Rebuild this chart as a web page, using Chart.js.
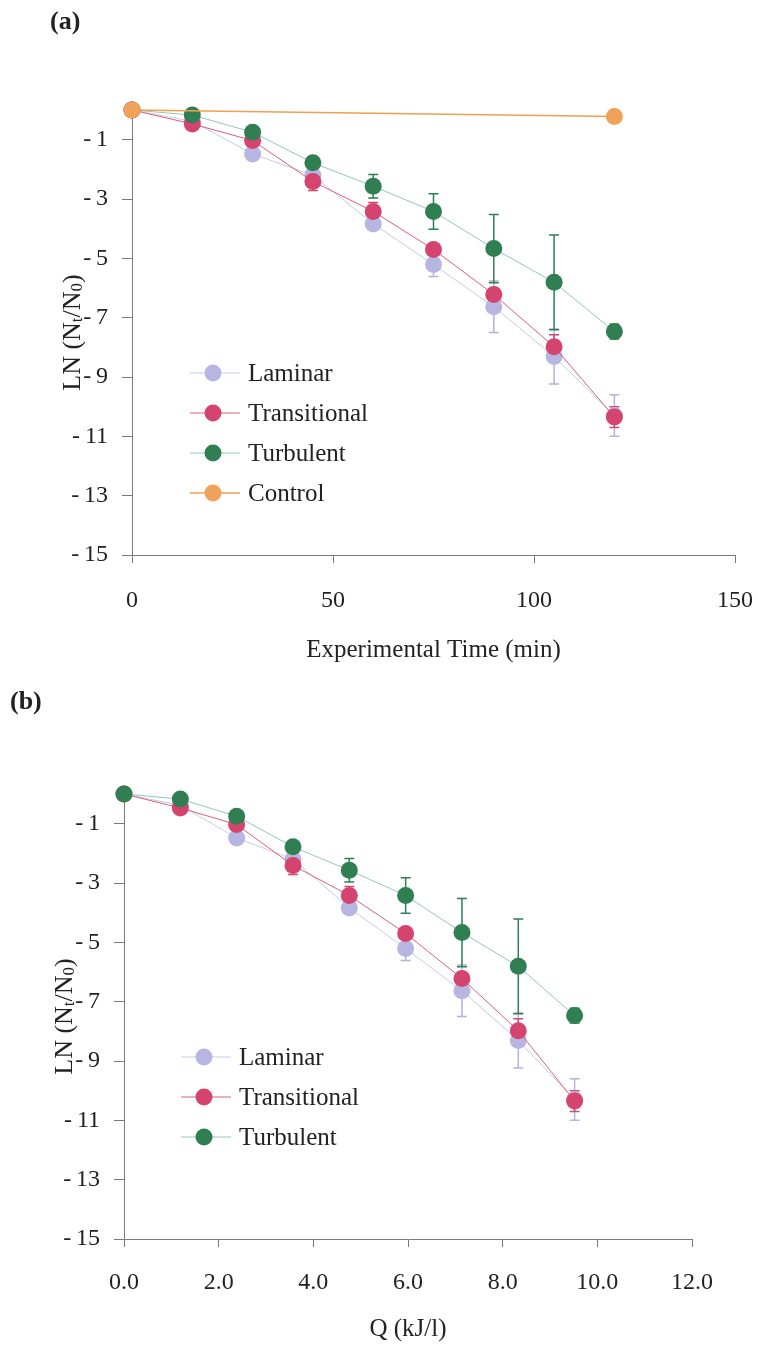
<!DOCTYPE html>
<html>
<head>
<meta charset="utf-8">
<script src="https://cdn.jsdelivr.net/npm/chart.js@4.4.1/dist/chart.umd.min.js"></script>
<style>
  body { margin: 0; background: #fff; width: 758px; height: 1350px; position: relative; overflow: hidden; }
  .panel { position: absolute; left: 0; }
  .panel canvas { display: block; }
  .tag { position: absolute; z-index: 2; font: bold 26px "Liberation Serif", serif; line-height: 26px; color: #222; }
</style>
</head>
<body>
<div class="panel" style="top:0"><canvas id="chartA" width="758" height="690"></canvas></div>
<div class="panel" style="top:690px"><canvas id="chartB" width="758" height="660"></canvas></div>
<div class="tag" style="left:50px;top:8px">(a)</div>
<div class="tag" style="left:10px;top:688px">(b)</div>
<script>
// x values
const timeMin = [0, 15, 30, 45, 60, 75, 90, 105, 120];
const qKJ = [0, 1.19, 2.38, 3.57, 4.76, 5.95, 7.14, 8.33, 9.52];
const controlTime = [0, 120];

// LN(Nt/N0) per regime
const laminar = [0, -0.38, -1.48, -2.2, -3.84, -5.21, -6.63, -8.31, -10.3];
const transitional = [0, -0.47, -1.03, -2.41, -3.42, -4.7, -6.22, -7.98, -10.35];
const turbulent = [0, -0.17, -0.75, -1.78, -2.57, -3.42, -4.67, -5.81, -7.47];
const control = [0, -0.22];

// error bar half-heights
const laminarErr = [0, 0.1, 0.15, 0.2, 0.15, 0.4, 0.87, 0.93, 0.7];
const transitionalErr = [0, 0.1, 0.1, 0.3, 0.3, 0.15, 0.2, 0.4, 0.35];
const turbulentErr = [0, 0.05, 0.1, 0.15, 0.4, 0.6, 1.15, 1.6, 0.25];

const yTicks = [-15, -13, -11, -9, -7, -5, -3, -1];

const FONT = '"Liberation Serif", "Times New Roman", serif';
const INK = '#222';
const AXIS = '#7a7a7a';

const colors = {
  laminar: { dot: '#b7b5e2', line: '#c4cbe8', err: '#b4b2de', order: 4 },
  transitional: { dot: '#d5446e', line: '#d9607f', err: '#cf4a72', order: 3 },
  turbulent: { dot: '#2f7f52', line: '#93c6bd', err: '#2f7f52', order: 2 },
  control: { dot: '#f0a25a', line: '#f0a04e', err: '#f0a25a', order: 1 }
};

function series(label, xs, ys, errs, c, lw) {
  return {
    label: label,
    data: xs.map((x, i) => ({ x: x, y: ys[i] })),
    errors: errs,
    errorColor: c.err,
    borderColor: c.line,
    borderWidth: lw || 1,
    backgroundColor: c.dot,
    pointBackgroundColor: c.dot,
    pointBorderWidth: 0,
    pointRadius: 8.5,
    pointHoverRadius: 8.5,
    tension: 0,
    clip: false,
    order: c.order
  };
}

// vertical error bars with caps
const errorBars = {
  id: 'errorBars',
  beforeDatasetsDraw(chart) {
    const ctx = chart.ctx;
    const ys = chart.scales.y;
    chart.data.datasets.forEach((ds, i) => {
      if (!ds.errors) return;
      const meta = chart.getDatasetMeta(i);
      meta.data.forEach((pt, j) => {
        const e = ds.errors[j];
        if (!e) return;
        const v = ds.data[j].y;
        const top = ys.getPixelForValue(v + e);
        const bot = ys.getPixelForValue(v - e);
        ctx.save();
        ctx.strokeStyle = ds.errorColor;
        ctx.lineWidth = 1.5;
        ctx.beginPath();
        ctx.moveTo(pt.x, top); ctx.lineTo(pt.x, bot);
        ctx.moveTo(pt.x - 5, top); ctx.lineTo(pt.x + 5, top);
        ctx.moveTo(pt.x - 5, bot); ctx.lineTo(pt.x + 5, bot);
        ctx.stroke();
        ctx.restore();
      });
    });
  }
};

// rotated y title with subscripts
const yTitle = {
  id: 'yTitle',
  afterDraw(chart, args, opts) {
    const { ctx, chartArea } = chart;
    const cy = (chartArea.top + chartArea.bottom) / 2;
    const big = '26px ' + FONT, small = '17px ' + FONT;
    const parts = [['LN (N', big, 0], ['t', small, 5], ['/N', big, 0], ['0', small, 5], [')', big, 0]];
    ctx.save();
    ctx.translate(opts.x, cy);
    ctx.rotate(-Math.PI / 2);
    let total = 0;
    parts.forEach(p => { ctx.font = p[1]; total += ctx.measureText(p[0]).width; });
    let x = -total / 2;
    ctx.fillStyle = INK;
    ctx.textBaseline = 'middle';
    parts.forEach(p => {
      ctx.font = p[1];
      ctx.fillText(p[0], x, p[2]);
      x += ctx.measureText(p[0]).width;
    });
    ctx.restore();
  }
};

// legend drawn inside the plot
const inLegend = {
  id: 'inLegend',
  afterDraw(chart, args, opts) {
    const ctx = chart.ctx;
    ctx.save();
    chart.data.datasets.forEach((ds, i) => {
      const y = opts.y + i * opts.gap;
      ctx.strokeStyle = ds.borderColor;
      ctx.lineWidth = ds.borderWidth;
      ctx.beginPath();
      ctx.moveTo(opts.x - 23, y); ctx.lineTo(opts.x + 27, y);
      ctx.stroke();
      ctx.fillStyle = ds.pointBackgroundColor;
      ctx.beginPath();
      ctx.arc(opts.x, y, 8.5, 0, Math.PI * 2);
      ctx.fill();
      ctx.fillStyle = INK;
      ctx.font = '25px ' + FONT;
      ctx.textBaseline = 'middle';
      ctx.fillText(ds.label, opts.textX, y + 1);
    });
    ctx.restore();
  }
};

function makeChart(id, cfg) {
  return new Chart(document.getElementById(id), {
    type: 'line',
    data: { datasets: cfg.datasets },
    options: {
      responsive: false,
      animation: false,
      events: [],
      layout: { padding: cfg.padding },
      plugins: {
        legend: { display: false },
        tooltip: { enabled: false },
        yTitle: { x: cfg.titleX },
        inLegend: cfg.legend
      },
      scales: {
        x: {
          type: 'linear',
          min: cfg.xMin, max: cfg.xMax,
          ticks: {
            stepSize: cfg.xStep,
            padding: cfg.xTickPad,
            color: INK,
            font: { family: FONT, size: 24 },
            callback: cfg.xFormat
          },
          grid: { display: true, drawOnChartArea: false, tickLength: 8, color: AXIS },
          border: { color: AXIS, width: 1 },
          title: {
            display: true, text: cfg.xTitle, color: INK,
            font: { family: FONT, size: 25 },
            padding: { top: 0, bottom: cfg.xTitlePad }
          },
          afterFit(s) {
            s.height = cfg.xHeight;
            s.paddingLeft = 0;
            s.paddingRight = 0;
          }
        },
        y: {
          min: -15, max: 0,
          afterBuildTicks(s) { s.ticks = yTicks.map(v => ({ value: v })); },
          ticks: {
            padding: 14,
            color: INK,
            font: { family: FONT, size: 24 },
            callback: v => v < 0 ? '-\u2009' + (-v) : String(v)
          },
          grid: { display: true, drawOnChartArea: false, tickLength: 10, color: AXIS },
          border: { color: AXIS, width: 1 },
          afterFit(s) {
            s.width = cfg.yWidth;
            s.paddingTop = 0;
            s.paddingBottom = 0;
          }
        }
      }
    },
    plugins: [errorBars, yTitle, inLegend]
  });
}

makeChart('chartA', {
  datasets: [
    series('Laminar', timeMin, laminar, laminarErr, colors.laminar),
    series('Transitional', timeMin, transitional, transitionalErr, colors.transitional),
    series('Turbulent', timeMin, turbulent, turbulentErr, colors.turbulent),
    series('Control', controlTime, control, null, colors.control, 1.6)
  ],
  padding: { top: 110, right: 23, left: 0, bottom: 0 },
  xMin: 0, xMax: 150, xStep: 50,
  xFormat: v => String(v),
  xTitle: 'Experimental Time (min)',
  xTickPad: 23, xTitlePad: 25, xHeight: 135,
  yWidth: 132,
  titleX: 73,
  legend: { x: 213, textX: 248, y: 373, gap: 40 }
});

makeChart('chartB', {
  datasets: [
    series('Laminar', qKJ, laminar, laminarErr, colors.laminar),
    series('Transitional', qKJ, transitional, transitionalErr, colors.transitional),
    series('Turbulent', qKJ, turbulent, turbulentErr, colors.turbulent)
  ],
  padding: { top: 104, right: 66, left: 0, bottom: 0 },
  xMin: 0, xMax: 12, xStep: 2,
  xFormat: v => v.toFixed(1),
  xTitle: 'Q (kJ/l)',
  xTickPad: 21, xTitlePad: 6, xHeight: 111,
  yWidth: 124,
  titleX: 65,
  legend: { x: 204, textX: 239, y: 367, gap: 40 }
});
</script>
</body>
</html>
